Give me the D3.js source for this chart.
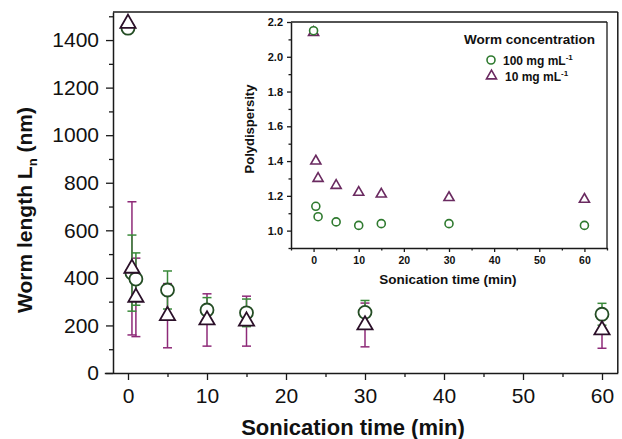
<!DOCTYPE html>
<html><head><meta charset="utf-8">
<script src="https://cdn.jsdelivr.net/npm/d3@7/dist/d3.min.js"></script>
<style>
html,body{margin:0;padding:0;background:#fff;}
svg{display:block;font-family:Arial,"Liberation Sans",sans-serif;}
</style></head>
<body><svg id="c" width="622" height="439"></svg>
<script>
// ---- data ----
const times = [0, 0.5, 1, 5, 10, 15, 30, 60];
const length100 = [1450, 420, 395, 349, 265, 253, 255, 247];
const err100 = [0, 160, 110, 80, 52, 58, 50, 46];
const length10 = [1470, 440, 318, 241, 223, 218, 202, 181];
const err10 = [0, 280, 165, 135, 110, 105, 92, 77];
const pdi100 = [2.15, 1.14, 1.08, 1.05, 1.03, 1.04, 1.04, 1.03];
const pdi10 = [2.14, 1.40, 1.30, 1.26, 1.22, 1.21, 1.19, 1.18];
const mainXTicks = [0, 10, 20, 30, 40, 50, 60];
const mainXMinor = [5, 15, 25, 35, 45, 55];
const mainYTicks = [0, 200, 400, 600, 800, 1000, 1200, 1400];
const mainYMinor = [100, 300, 500, 700, 900, 1100, 1300, 1500];
const insetXTicks = [0, 10, 20, 30, 40, 50, 60];
const insetXMinor = [-5, 5, 15, 25, 35, 45, 55, 65];
const insetYTicks = [1.0, 1.2, 1.4, 1.6, 1.8, 2.0, 2.2];
const insetYMinor = [0.9, 1.1, 1.3, 1.5, 1.7, 1.9, 2.1];
const seriesLabels = ["100 mg mL", "10 mg mL"];

const svg = d3.select("#c");
const AX = "#1a1a1a";
const G_ERR = "#3a8a3a", P_ERR = "#8e2a78";
const G_MK = "#244d24", P_MK = "#2b1029";
const G_IN = "#2f7a2f", P_IN = "#6a2a60";

// ---- main chart ----
const x = d3.scaleLinear().domain([-3, 62]).range([104.3, 617.8]);
const y = d3.scaleLinear().domain([0, 1518]).range([373, 12]);
const yAxisX = 113;

function styleAxis(g, fs, bold) {
  g.selectAll("path.domain").attr("stroke", AX).attr("stroke-width", 1.5);
  g.selectAll(".tick line").attr("stroke", AX).attr("stroke-width", 1.3);
  g.selectAll("text").attr("fill", "#111").style("font-size", fs + "px")
   .style("font-weight", bold ? "bold" : "normal").style("font-family", "Arial, 'Liberation Sans', sans-serif");
}

// borders
svg.append("line").attr("x1", yAxisX).attr("x2", x.range()[1]).attr("y1", y.range()[1]).attr("y2", y.range()[1]).attr("stroke", AX).attr("stroke-width", 1.5);
svg.append("line").attr("x1", x.range()[1]).attr("x2", x.range()[1]).attr("y1", y.range()[1]).attr("y2", y.range()[0]).attr("stroke", AX).attr("stroke-width", 1.5);

const gx = svg.append("g").attr("transform", `translate(0,${y.range()[0]})`)
  .call(d3.axisBottom(x).tickValues(mainXTicks).tickFormat(d3.format("d")).tickSize(7).tickSizeOuter(0).tickPadding(8));
styleAxis(gx, 21, false);
const gxm = svg.append("g").attr("transform", `translate(0,${y.range()[0]})`)
  .call(d3.axisBottom(x).tickValues(mainXMinor).tickFormat("").tickSize(4).tickSizeOuter(0));
gxm.select("path.domain").remove(); styleAxis(gxm, 21, false);

const gy = svg.append("g").attr("transform", `translate(${yAxisX},0)`)
  .call(d3.axisLeft(y).tickValues(mainYTicks).tickFormat(d3.format("d")).tickSize(7).tickSizeOuter(0).tickPadding(7));
styleAxis(gy, 21, false);
const gym = svg.append("g").attr("transform", `translate(${yAxisX},0)`)
  .call(d3.axisLeft(y).tickValues(mainYMinor).tickFormat("").tickSize(4).tickSizeOuter(0));
gym.select("path.domain").remove(); styleAxis(gym, 21, false);

svg.append("text").attr("x", 353).attr("y", 435).attr("text-anchor", "middle")
  .style("font-size", "22px").style("font-weight", "bold").attr("fill", "#111").text("Sonication time (min)");
const yt = svg.append("text").attr("transform", "translate(32,210) rotate(-90)").attr("text-anchor", "middle")
  .style("font-size", "21px").style("font-weight", "bold").attr("fill", "#111");
yt.append("tspan").text("Worm length L");
yt.append("tspan").attr("dy", 5).style("font-size", "13px").text("n");
yt.append("tspan").attr("dy", -5).text(" (nm)");

const main100 = times.map((t, i) => ({t, v: length100[i], e: err100[i]}));
const main10 = times.map((t, i) => ({t, v: length10[i], e: err10[i]}));

function errorBars(data, color) {
  const g = svg.append("g").attr("stroke", color).attr("stroke-width", 1.5);
  data.filter(d => d.e > 0).forEach(d => {
    const cx = x(d.t);
    g.append("line").attr("x1", cx).attr("x2", cx).attr("y1", y(d.v - d.e)).attr("y2", y(d.v + d.e));
    [d.v - d.e, d.v + d.e].forEach(v => g.append("line").attr("x1", cx - 4.5).attr("x2", cx + 4.5).attr("y1", y(v)).attr("y2", y(v)));
  });
}
errorBars(main10, P_ERR);
errorBars(main100, G_ERR);

svg.append("g").selectAll("circle").data(main100).join("circle")
  .attr("cx", d => x(d.t)).attr("cy", d => y(d.v)).attr("r", 6.5)
  .attr("fill", "#fff").attr("stroke", G_MK).attr("stroke-width", 1.8);
const triMain = d3.symbol().type(d3.symbolTriangle).size(100);
svg.append("g").selectAll("path").data(main10).join("path")
  .attr("d", triMain).attr("transform", d => `translate(${x(d.t)},${y(d.v)})`)
  .attr("fill", "#fff").attr("stroke", P_MK).attr("stroke-width", 1.8);

// ---- inset ----
const xi = d3.scaleLinear().domain([-5, 65]).range([291, 607]);
const yi = d3.scaleLinear().domain([0.9, 2.2]).range([248, 22]);

svg.append("line").attr("x1", xi.range()[0]).attr("x2", xi.range()[1]).attr("y1", yi.range()[1]).attr("y2", yi.range()[1]).attr("stroke", AX).attr("stroke-width", 1.3);
svg.append("line").attr("x1", xi.range()[1]).attr("x2", xi.range()[1]).attr("y1", yi.range()[1]).attr("y2", yi.range()[0]).attr("stroke", AX).attr("stroke-width", 1.3);

const gxi = svg.append("g").attr("transform", `translate(0,${yi.range()[0]})`)
  .call(d3.axisBottom(xi).tickValues(insetXTicks).tickFormat(d3.format("d")).tickSize(4).tickSizeOuter(0).tickPadding(5));
styleAxis(gxi, 10.5, true);
const gxim = svg.append("g").attr("transform", `translate(0,${yi.range()[0]})`)
  .call(d3.axisBottom(xi).tickValues(insetXMinor).tickFormat("").tickSize(2.5).tickSizeOuter(0));
gxim.select("path.domain").remove(); styleAxis(gxim, 10.5, true);

const gyi = svg.append("g").attr("transform", `translate(${xi.range()[0]},0)`)
  .call(d3.axisLeft(yi).tickValues(insetYTicks).tickFormat(d3.format(".1f")).tickSize(4).tickSizeOuter(0).tickPadding(4));
styleAxis(gyi, 11, true);
const gyim = svg.append("g").attr("transform", `translate(${xi.range()[0]},0)`)
  .call(d3.axisLeft(yi).tickValues(insetYMinor).tickFormat("").tickSize(2.5).tickSizeOuter(0));
gyim.select("path.domain").remove(); styleAxis(gyim, 11, true);

svg.append("text").attr("x", 448).attr("y", 284).attr("text-anchor", "middle")
  .style("font-size", "13.5px").style("font-weight", "bold").attr("fill", "#111").text("Sonication time (min)");
svg.append("text").attr("transform", "translate(254,129) rotate(-90)").attr("text-anchor", "middle")
  .style("font-size", "13px").style("font-weight", "bold").attr("fill", "#111").text("Polydispersity");

const in100 = times.map((t, i) => ({t, v: pdi100[i]}));
const in10 = times.map((t, i) => ({t, v: pdi10[i]}));
const triIn = d3.symbol().type(d3.symbolTriangle).size(44);
svg.append("g").selectAll("path").data(in10).join("path")
  .attr("d", triIn).attr("transform", d => `translate(${xi(d.t)},${yi(d.v)})`)
  .attr("fill", "none").attr("stroke", P_IN).attr("stroke-width", 1.6);
svg.append("g").selectAll("circle").data(in100).join("circle")
  .attr("cx", d => xi(d.t)).attr("cy", d => yi(d.v)).attr("r", 4)
  .attr("fill", "#fff").attr("stroke", G_IN).attr("stroke-width", 1.6);

// legend
svg.append("text").attr("x", 464).attr("y", 44).style("font-size", "13.5px").style("font-weight", "bold")
  .attr("fill", "#111").text("Worm concentration");
svg.append("circle").attr("cx", 491).attr("cy", 60).attr("r", 4).attr("fill", "#fff").attr("stroke", G_IN).attr("stroke-width", 1.6);
svg.append("path").attr("d", triIn).attr("transform", "translate(491.5,76)").attr("fill", "none").attr("stroke", P_IN).attr("stroke-width", 1.6);
[[503, 64.5, seriesLabels[0]], [505, 81, seriesLabels[1]]].forEach(([lx, ly, s]) => {
  const t = svg.append("text").attr("x", lx).attr("y", ly).style("font-size", "12px").style("font-weight", "bold").attr("fill", "#111");
  t.append("tspan").text(s);
  t.append("tspan").attr("dy", -5).style("font-size", "8px").text("-1");
});
</script></body></html>
